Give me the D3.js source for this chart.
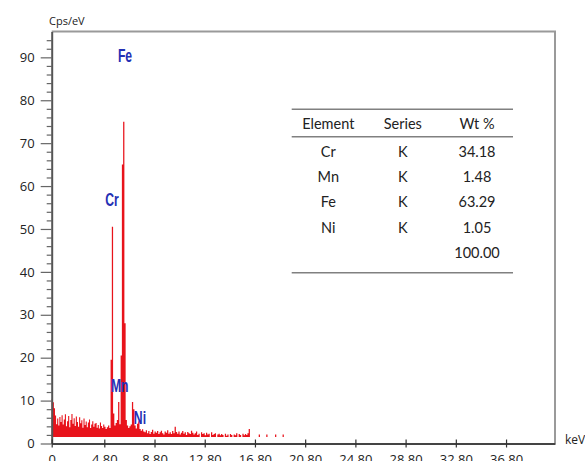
<!DOCTYPE html>
<html>
<head>
<meta charset="utf-8">
<script src="https://cdn.jsdelivr.net/npm/d3@7"></script>
<style>
  html, body { margin: 0; padding: 0; background: #fff; }
  svg { display: block; }
</style>
</head>
<body>
<svg id="chart" width="585" height="461"></svg>
<script>
// ---------------- data ----------------
const energyStart = 0.0;      // keV of first channel
const energyStep = 0.1;       // keV per channel
const spectrumBase = 1.5;     // cps/eV floor of the filled spectrum
const spectrum = [
  10.4, 9.6, 8.2, 6.5, 4.5, 5.8, 4.2, 6.2, 5.0, 6.6,
  4.4, 5.6, 6.8, 4.0, 5.2, 6.4, 3.8, 5.5, 6.9, 4.6,
  5.9, 4.1, 6.3, 5.0, 3.9, 6.1, 4.7, 5.4, 3.7, 5.8,
  4.3, 5.1, 3.8, 4.9, 5.6, 3.6, 4.4, 5.2, 3.9, 4.6,
  4.8, 3.7, 4.3, 3.5, 4.9, 4.1, 3.6, 4.4, 3.9, 3.4,
  3.8, 4.2, 3.6, 19.5, 50.5, 7.0, 4.2, 4.8, 5.5, 9.7,
  4.5, 20.5, 65.0, 75.0, 28.0, 5.5, 4.2, 3.6, 4.0, 4.4,
  9.7, 8.0, 4.2, 3.5, 4.6, 5.2, 3.4, 3.0, 3.3, 2.8,
  2.6, 3.1, 2.4, 2.9, 2.2, 2.7, 3.2, 2.3, 2.8, 2.5,
  2.9, 2.2, 2.6, 3.0, 2.4, 2.1, 2.8, 2.5, 3.1, 2.3,
  2.6, 2.2, 2.9, 2.4, 3.9, 2.7, 2.3, 2.8, 2.1, 2.5,
  2.9, 2.3, 2.6, 2.0, 2.7, 2.4, 2.2, 3.0, 2.5, 2.1,
  2.4, 2.8, 2.0, 2.3, 1.5, 2.6, 2.2, 2.4, 1.9, 2.5,
  2.1, 2.3, 1.5, 2.6, 2.0, 2.2, 2.4, 1.5, 2.1, 2.3,
  1.9, 2.2, 2.0, 1.5, 2.3, 1.8, 2.1, 1.5, 2.2, 2.0,
  1.5, 2.1, 1.9, 2.4, 1.5, 2.2, 2.0, 1.5, 2.3, 1.9,
  2.2, 2.0, 2.4, 3.4, 1.5, 1.5, 1.5, 1.5, 1.5, 1.5,
  1.5, 2.1, 1.5, 1.5, 1.5, 1.5, 1.5, 2.1, 1.5, 1.5,
  1.5, 1.5, 1.5, 1.5, 2.1, 1.5, 1.5, 1.5, 1.5, 1.5,
  2.1, 1.5
];

const xTickValues = [0, 4.8, 8.8, 12.8, 16.8, 20.8, 24.8, 28.8, 32.8, 36.8];
const xTickLabels = ["0", "4.80", "8.80", "12.80", "16.80", "20.80", "24.80", "28.80", "32.80", "36.80"];
const yTickValues = [0, 10, 20, 30, 40, 50, 60, 70, 80, 90];
const yMinorStep = 2;

const peakElements = ["Fe", "Cr", "Mn", "Ni"];
const peakLabelKeV = [6.45, 5.42, 6.03, 7.64];
const peakLabelCps = [89, 55.3, 12.0, 4.6];

const tableHeader = ["Element", "Series", "Wt %"];
const tableElements = ["Cr", "Mn", "Fe", "Ni", ""];
const tableSeries = ["K", "K", "K", "K", ""];
const tableWt = ["34.18", "1.48", "63.29", "1.05", "100.00"];

// ---------------- scales ----------------
const svg = d3.select("#chart");
svg.append("rect").attr("width", 585).attr("height", 461).attr("fill", "#fff");

const x = d3.scaleLinear().domain([0, 4.8, 40.7]).range([51.7, 104.3, 555]);
const y = d3.scaleLinear().domain([0, 96]).range([443.5, 31.6]);

const pts = spectrum.map((v, i) => ({ e: energyStart + i * energyStep, v }));

// frame (top + right)
svg.append("path")
  .attr("d", `M${x(0)},${y(96)}H${x(40.7)}V${y(0)}`)
  .attr("fill", "none").attr("stroke", "#9a9a9a").attr("stroke-width", 2);

// spectrum
const area = d3.area()
  .x(d => x(d.e))
  .y0(y(spectrumBase))
  .y1(d => y(d.v))
  .curve(d3.curveStepAfter);
svg.append("path").datum(pts)
  .attr("d", area)
  .attr("fill", "#e8131b")
  .attr("stroke", "none");

// y axis minor ticks
const minorVals = d3.range(0, 96, yMinorStep).filter(v => v % 10 !== 0);
svg.append("g").attr("transform", `translate(${x(0)},0)`)
  .call(d3.axisLeft(y).tickValues(minorVals).tickSize(5).tickFormat(""))
  .call(g => g.select(".domain").remove())
  .call(g => g.selectAll("line").attr("stroke", "#666").attr("stroke-width", 1.2));

// y axis major
svg.append("g").attr("transform", `translate(${x(0)},0)`)
  .call(d3.axisLeft(y).tickValues(yTickValues).tickSize(11).tickPadding(6).tickSizeOuter(0))
  .call(g => g.select(".domain").attr("stroke", "#555").attr("stroke-width", 2))
  .call(g => g.selectAll("line").attr("stroke", "#666").attr("stroke-width", 1.2))
  .call(g => g.selectAll("text").attr("font-family", "Open Sans, sans-serif").attr("font-size", 13).attr("fill", "#222"));

// x axis
svg.append("g").attr("transform", `translate(0,${y(0)})`)
  .call(d3.axisBottom(x).tickValues(xTickValues).tickFormat((d, i) => xTickLabels[i]).tickSize(4).tickPadding(7).tickSizeOuter(0))
  .call(g => g.select(".domain").attr("stroke", "#444").attr("stroke-width", 2))
  .call(g => g.selectAll(".tick line").attr("y1", -4).attr("stroke", "#333").attr("stroke-width", 1.2))
  .call(g => g.selectAll("text").attr("font-family", "Open Sans, sans-serif").attr("font-size", 13).attr("fill", "#222"));

// axis titles
svg.append("text").attr("x", 49).attr("y", 25)
  .attr("font-family", "Open Sans, sans-serif").attr("font-size", 11).attr("fill", "#222")
  .text("Cps/eV");
svg.append("text").attr("x", 565).attr("y", 444)
  .attr("font-family", "Open Sans, sans-serif").attr("font-size", 12).attr("fill", "#222")
  .text("keV");

// peak labels (condensed bold look)
svg.append("g").selectAll("text").data(peakElements).join("text")
  .attr("transform", (d, i) => `translate(${x(peakLabelKeV[i])},${y(peakLabelCps[i])}) scale(0.74,1.12)`)
  .attr("text-anchor", "middle")
  .attr("font-family", "Liberation Sans, Arial, sans-serif")
  .attr("font-weight", "bold")
  .attr("font-size", 16.5)
  .attr("fill", "#2430b4")
  .text(d => d);

// table
const tX0 = 291.7, tX1 = 513;
const colX = [328.3, 402.8, 477];
const headerY = 129.3;
const rowY0 = 156.7, rowDY = 25.3;
const tg = svg.append("g").attr("font-family", "Lato, sans-serif").attr("font-size", 14.5).attr("fill", "#222").attr("text-anchor", "middle");
[109.3, 136.7, 272.7].forEach(ly => {
  tg.append("line").attr("x1", tX0).attr("x2", tX1).attr("y1", ly).attr("y2", ly)
    .attr("stroke", "#808080").attr("stroke-width", 1.6);
});
tableHeader.forEach((h, i) => tg.append("text").attr("x", colX[i]).attr("y", headerY).text(h));
tableElements.forEach((el, r) => {
  const ry = rowY0 + r * rowDY;
  tg.append("text").attr("x", colX[0]).attr("y", ry).text(el);
  tg.append("text").attr("x", colX[1]).attr("y", ry).text(tableSeries[r]);
  tg.append("text").attr("x", colX[2]).attr("y", ry).text(tableWt[r]);
});
</script>
</body>
</html>
